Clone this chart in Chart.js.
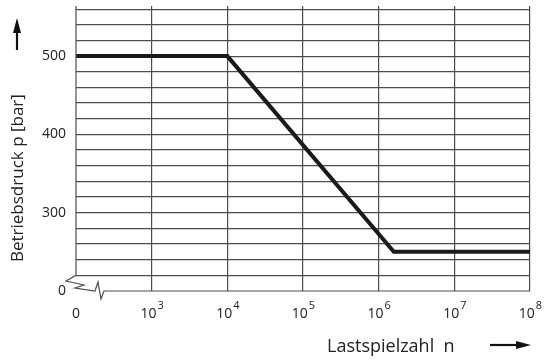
<!DOCTYPE html>
<html>
<head>
<meta charset="utf-8">
<script src="https://cdn.jsdelivr.net/npm/chart.js@4"></script>
<style>
  body { margin: 0; background: #fff; }
  #wrap { width: 544px; height: 360px; }
</style>
</head>
<body>
<div id="wrap"><canvas id="woehler" width="544" height="360"></canvas></div>
<script>
// positions on the x axis are decades: 2 = "0", 3 = 10^3 ... 8 = 10^8
const lastspielzahl = [2, 4, 6.2, 8];
const betriebsdruck = [500, 500, 250, 250];

const xTickValues = [2, 3, 4, 5, 6, 7, 8];
const xTickBase = ["0", "10", "10", "10", "10", "10", "10"];
const xTickExp = ["", "3", "4", "5", "6", "7", "8"];

const yGridValues = [200, 220, 240, 260, 280, 300, 320, 340, 360, 380, 400, 420, 440, 460, 480, 500, 520, 540, 560];
const yLabelValues = [200, 300, 400, 500];
const yLabelTexts = ["0", "300", "400", "500"];

const FONT = "'Open Sans', 'Noto Sans', sans-serif";
const GRID = "#4d4d4d";

// axis lines with break symbol, tick labels and axis titles
const decorations = {
    id: "decorations",
    afterDraw(chart) {
        const { ctx, chartArea: a } = chart;
        const x = chart.scales.x;
        const y = chart.scales.y;
        const L = a.left, B = a.bottom;

        ctx.save();
        ctx.strokeStyle = GRID;
        ctx.lineWidth = 1.2;

        // left axis down to the break
        ctx.beginPath();
        ctx.moveTo(L, a.top);
        ctx.lineTo(L, y.getPixelForValue(220));
        ctx.lineTo(L - 10, B - 10);
        ctx.lineTo(L + 8, B - 6);
        ctx.lineTo(L - 1, B - 3);
        ctx.lineTo(L + 19, B);
        ctx.lineTo(L + 22, B - 9);
        ctx.lineTo(L + 25, B + 8);
        ctx.lineTo(L + 28, B);
        ctx.lineTo(a.right, B);
        ctx.stroke();

        // x tick labels with exponents
        ctx.fillStyle = "#222";
        ctx.textBaseline = "alphabetic";
        xTickValues.forEach((v, i) => {
            const px = x.getPixelForValue(v);
            ctx.font = "14px " + FONT;
            const wb = ctx.measureText(xTickBase[i]).width;
            ctx.font = "11px " + FONT;
            const we = ctx.measureText(xTickExp[i]).width;
            const start = px - (wb + we) / 2;
            ctx.font = "14px " + FONT;
            ctx.textAlign = "left";
            ctx.fillText(xTickBase[i], start, B + 27);
            ctx.font = "11px " + FONT;
            ctx.fillText(xTickExp[i], start + wb + 1, B + 18);
        });

        // x title and arrow
        ctx.font = "18px " + FONT;
        ctx.textAlign = "left";
        ctx.fillStyle = "#222";
        ctx.fillText("Lastspielzahl  n", 327, 352);
        ctx.strokeStyle = "#111";
        ctx.lineWidth = 2.2;
        ctx.beginPath();
        ctx.moveTo(490, 345);
        ctx.lineTo(518, 345);
        ctx.stroke();
        ctx.beginPath();
        ctx.moveTo(531, 345);
        ctx.lineTo(516, 341);
        ctx.lineTo(516, 349);
        ctx.closePath();
        ctx.fillStyle = "#111";
        ctx.fill();

        // y title and arrow
        ctx.save();
        ctx.translate(23, 262);
        ctx.rotate(-Math.PI / 2);
        ctx.font = "17px " + FONT;
        ctx.fillStyle = "#222";
        ctx.fillText("Betriebsdruck p [bar]", 0, 0);
        ctx.restore();
        ctx.beginPath();
        ctx.moveTo(17, 50);
        ctx.lineTo(17, 30);
        ctx.stroke();
        ctx.beginPath();
        ctx.moveTo(17, 18);
        ctx.lineTo(13, 33);
        ctx.lineTo(21, 33);
        ctx.closePath();
        ctx.fill();
        ctx.restore();
    }
};

new Chart(document.getElementById("woehler"), {
    type: "line",
    data: {
        datasets: [{
            data: lastspielzahl.map((v, i) => ({ x: v, y: betriebsdruck[i] })),
            borderColor: "#1a1a1a",
            borderWidth: 4,
            pointRadius: 0,
            tension: 0,
            fill: false
        }]
    },
    options: {
        responsive: false,
        animation: false,
        devicePixelRatio: 1,
        layout: { padding: { top: 6, right: 14, left: 0, bottom: 0 } },
        plugins: {
            legend: { display: false },
            tooltip: { enabled: false }
        },
        scales: {
            x: {
                type: "linear",
                min: 2,
                max: 8,
                afterBuildTicks: (s) => { s.ticks = xTickValues.map(v => ({ value: v })); },
                afterFit: (s) => { s.height = 69; s.paddingLeft = 0; s.paddingRight = 0; },
                border: { display: false },
                grid: {
                    drawTicks: false,
                    lineWidth: 1.2,
                    color: (c) => c.tick && c.tick.value === 2 ? "rgba(0,0,0,0)" : GRID
                },
                ticks: { display: false }
            },
            y: {
                min: 200,
                max: 564,
                afterBuildTicks: (s) => { s.ticks = yGridValues.map(v => ({ value: v })); },
                afterFit: (s) => { s.width = 76; s.paddingTop = 0; s.paddingBottom = 0; },
                border: { display: false },
                grid: {
                    drawTicks: false,
                    lineWidth: 1.2,
                    color: (c) => c.tick && c.tick.value === 200 ? "rgba(0,0,0,0)" : GRID
                },
                ticks: {
                    autoSkip: false,
                    padding: 10,
                    color: "#222",
                    font: { family: FONT, size: 14 },
                    callback: (v) => {
                        const i = yLabelValues.indexOf(v);
                        return i >= 0 ? yLabelTexts[i] : "";
                    }
                }
            }
        }
    },
    plugins: [decorations]
});
</script>
</body>
</html>
